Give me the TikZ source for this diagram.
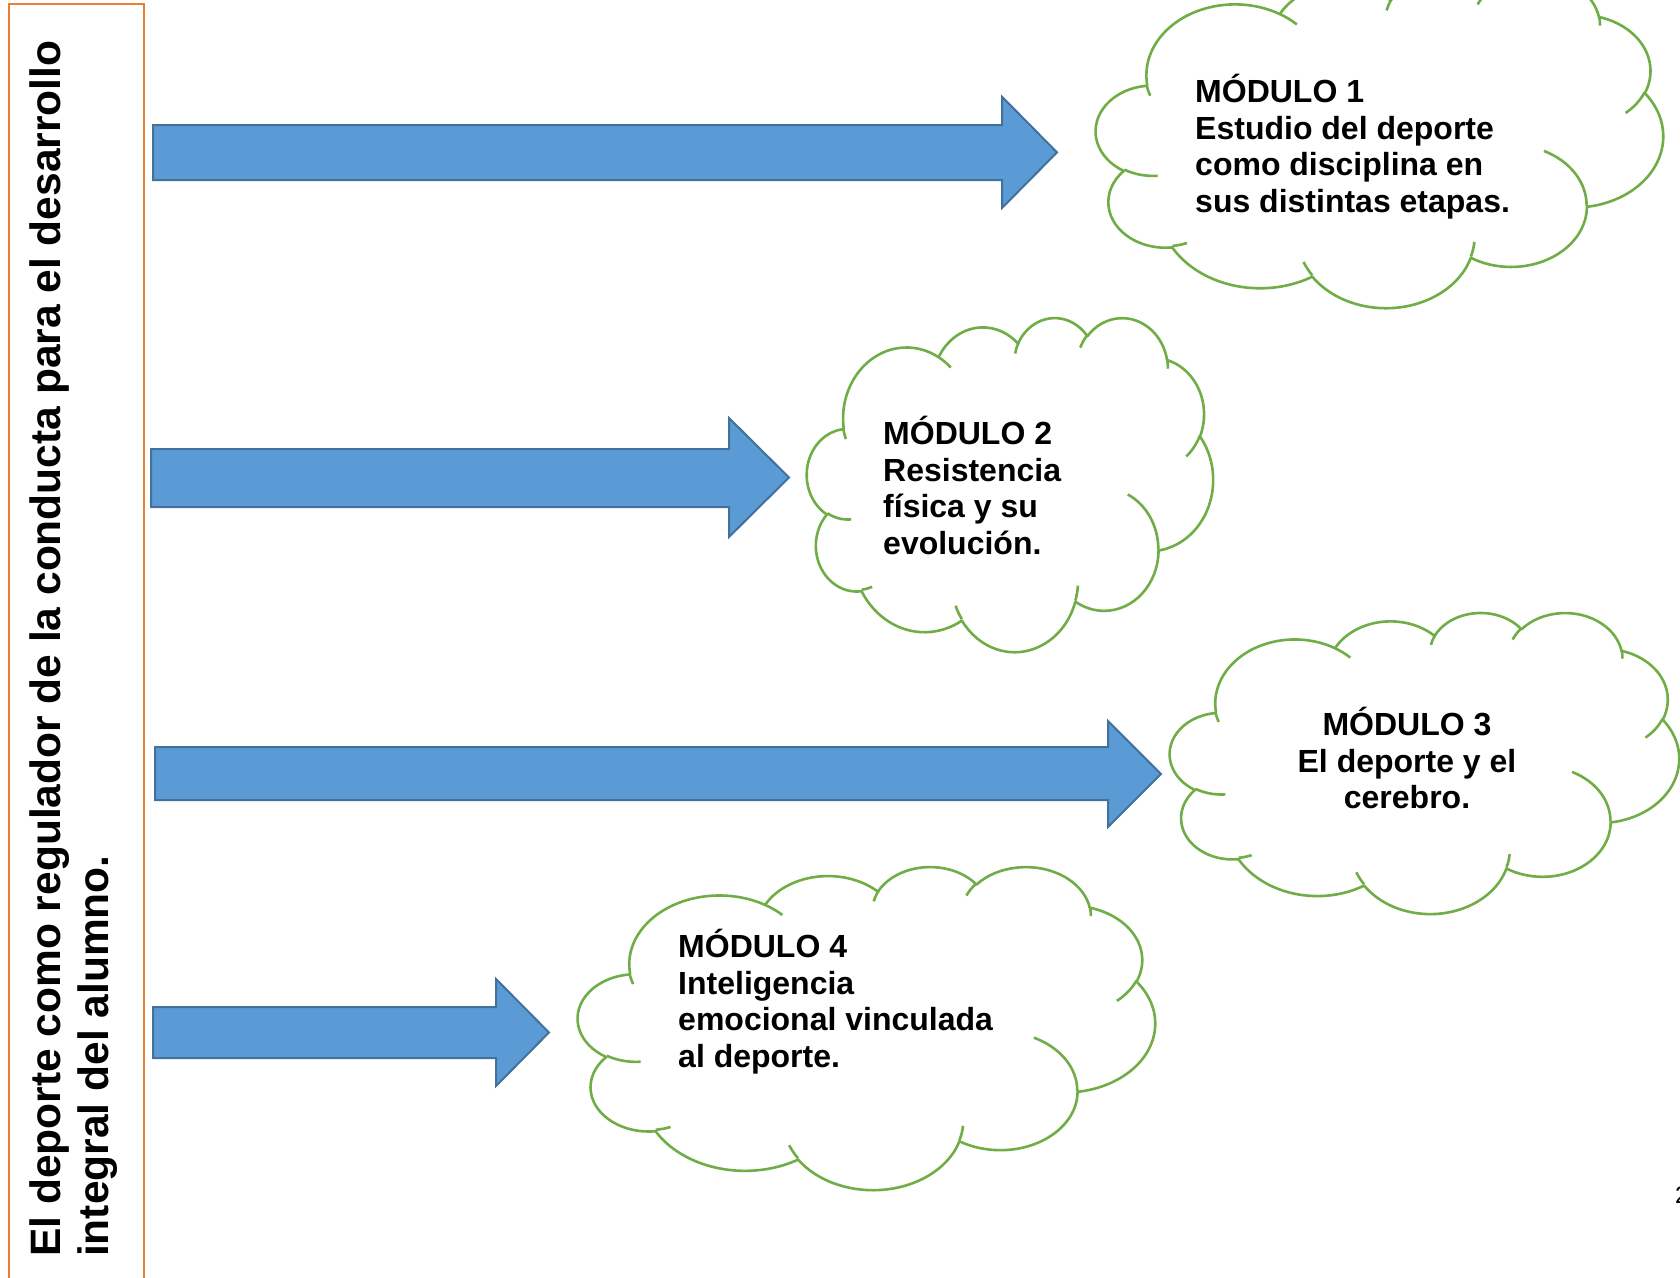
\documentclass[tikz,border=0pt]{standalone}
\usepackage{fontspec}
\setmainfont{Liberation Sans}
\definecolor{arrowfill}{HTML}{5B9BD5}
\definecolor{arrowline}{HTML}{41719C}
\definecolor{cloudgreen}{HTML}{70AD47}
\definecolor{boxorange}{HTML}{ED7D31}

% arc of the Office "cloud" shape: name, wR, hR (thousandths), start angle, sweep (visual degrees)
\newcommand\mkarc[5]{%
  \pgfmathsetmacro\mkS{atan2((#2)*sin(#4),(#3)*cos(#4))}%
  \pgfmathsetmacro\mkE{atan2((#2)*sin((#4)+(#5)),(#3)*cos((#4)+(#5)))}%
  \pgfmathsetmacro\mkD{mod(\mkE-\mkS+720,360)}%
  \expandafter\xdef\csname cldA#1\endcsname{arc[start angle=\mkS, delta angle=\mkD, x radius=#2pt, y radius=#3pt]}%
}
% outline
\mkarc{a}{6.753}{9.190}{-190.4875}{123.7805}
\mkarc{b}{5.333}{7.267}{-144.1024}{89.9452}
\mkarc{c}{4.365}{5.945}{-145.8079}{99.7230}
\mkarc{d}{4.857}{6.595}{-130.9861}{117.2417}
\mkarc{e}{5.333}{7.273}{-78.7089}{109.0269}
\mkarc{f}{6.775}{9.220}{-46.2673}{130.2690}
\mkarc{g}{5.785}{7.867}{0.6250}{114.0333}
\mkarc{h}{6.752}{9.215}{22.4516}{115.1726}
\mkarc{i}{7.720}{10.543}{66.2426}{75.7110}
\mkarc{j}{4.360}{5.918}{-274.9421}{146.7356}
\mkarc{k}{4.345}{5.945}{-246.8285}{152.5189}
% inner seams
\mkarc{l}{4.345}{5.945}{86.7420}{26.4295}
\mkarc{m}{4.360}{5.918}{73.6105}{11.4475}
\mkarc{n}{6.752}{9.215}{137.6242}{14.0811}
\mkarc{o}{6.752}{9.215}{6.4533}{15.9984}
\mkarc{p}{5.785}{7.867}{-70.2924}{70.9174}
\mkarc{q}{5.333}{7.273}{30.3180}{27.7515}
\mkarc{r}{4.857}{6.595}{-13.7443}{14.8589}
\mkarc{s}{4.857}{6.595}{-149.1815}{18.1954}
\mkarc{t}{4.365}{5.945}{-163.4943}{17.6864}
\mkarc{u}{6.753}{9.190}{-66.7070}{12.3194}
\mkarc{v}{6.753}{9.190}{154.1149}{11.8539}

\tikzset{
  cloudline/.style={draw=cloudgreen, line width=2.6pt, line join=round},
  blockarrow/.style={fill=arrowfill, draw=arrowline, line width=2pt, line join=miter},
  ctext/.style={font=\bfseries\fontsize{32}{36.5}\selectfont, inner sep=0pt, align=left, text=black},
  titletext/.style={font=\bfseries\fontsize{42.5}{48}\selectfont, inner sep=0pt, align=left, text=black},
  cloudpic/.pic={
    \path[cloudline, fill=white] (3.9pt,14.37pt) \cldAa\cldAb\cldAc\cldAd\cldAe\cldAf\cldAg\cldAh\cldAi\cldAj\cldAk -- cycle;
    \path[cloudline] (4.693pt,26.177pt) \cldAl
      (6.928pt,34.899pt) \cldAm
      (16.478pt,39.090pt) \cldAn
      (28.827pt,34.751pt) \cldAo
      (34.129pt,22.954pt) \cldAp
      (41.798pt,15.354pt) \cldAq
      (38.324pt,5.426pt) \cldAr
      (29.078pt,3.952pt) \cldAs
      (22.141pt,4.720pt) \cldAt
      (14.000pt,5.192pt) \cldAu
      (4.127pt,15.789pt) \cldAv;
  }
}

\begin{document}
\begin{tikzpicture}[x=1pt,y=-1pt]
\useasboundingbox (0,0) rectangle (1680,1277);
\fill[white] (0,0) rectangle (1680,1277);

% left frame with vertical title
\draw[boxorange, line width=2.5pt] (9,4) rectangle (144,1300);
\node[titletext, rotate=90, anchor=north west] (titulo) at (29.6,1257)
  {El deporte como regulador de la conducta para el desarrollo\\integral del alumno.};

% block arrows
\path[blockarrow] (153,125) -- (1002,125) -- (1002,96.7) -- (1057,152.4) -- (1002,208) -- (1002,180) -- (153,180) -- cycle;
\path[blockarrow] (151,449) -- (729,449) -- (729,418) -- (789,477.5) -- (729,537) -- (729,507) -- (151,507) -- cycle;
\path[blockarrow] (155,747) -- (1108,747) -- (1108,721) -- (1161,774) -- (1108,827) -- (1108,800) -- (155,800) -- cycle;
\path[blockarrow] (153,1007) -- (496,1007) -- (496,979) -- (549,1032.5) -- (496,1086) -- (496,1058) -- (153,1058) -- cycle;

% clouds
\begin{scope}[shift={(1096,-26)}, xscale={567/43.2}, yscale={-333/43.2}]
  \pic[transform shape] {cloudpic};
\end{scope}
\begin{scope}[shift={(807,317)}, xscale={406/43.2}, yscale={-334/43.2}]
  \pic[transform shape] {cloudpic};
\end{scope}
\begin{scope}[shift={(1170,612)}, xscale={509/43.2}, yscale={-301/43.2}]
  \pic[transform shape] {cloudpic};
\end{scope}
\begin{scope}[shift={(578,866)}, xscale={577/43.2}, yscale={-323/43.2}]
  \pic[transform shape] {cloudpic};
\end{scope}

% cloud texts
\node[ctext, anchor=north west] (m1) at (1195,74)
  {MÓDULO 1\\Estudio del deporte\\como disciplina en\\sus distintas etapas.};
\node[ctext, anchor=north west] (m2) at (883,416)
  {MÓDULO 2\\Resistencia\\física y su\\evolución.};
\node[ctext, align=center, anchor=north] (m3) at (1407,707)
  {MÓDULO 3\\El deporte y el\\cerebro.};
\node[ctext, anchor=north west] (m4) at (678,929)
  {MÓDULO 4\\Inteligencia\\emocional vinculada\\al deporte.};

% page number (cut by the page edge)
\node[font=\fontsize{24}{28}\selectfont, anchor=base west, inner sep=0pt] (pag) at (1675,1203) {2};
\end{tikzpicture}
\end{document}
